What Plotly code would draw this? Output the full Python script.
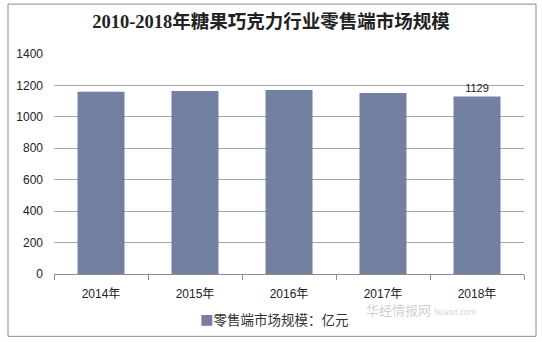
import plotly.graph_objects as go

years = ["2014年", "2015年", "2016年", "2017年", "2018年"]
values = [1159, 1165, 1171, 1152, 1129]
labels = ["", "", "", "", "1129"]
y_ticks = [0, 200, 400, 600, 800, 1000, 1200, 1400]
series_name = "零售端市场规模：亿元"
title = "2010-2018年糖果巧克力行业零售端市场规模"
bar_color = "#7480a2"

L, R, T, B = 54, 18, 54, 67.5
W, H = 542, 342
pw, ph = W - L - R, H - T - B

def px(x):
    return (x - L) / pw

def py(y):
    return (H - B - y) / ph

fig = go.Figure()
fig.add_trace(go.Bar(
    x=years, y=values, name=series_name,
    marker=dict(color=bar_color, line=dict(width=0)),
    width=0.5,
    text=labels, textposition="outside",
    textfont=dict(family="Arial, Liberation Sans, sans-serif", size=11, color="#222"),
    cliponaxis=False, showlegend=False,
))

fig.update_layout(
    width=W, height=H,
    margin=dict(l=L, r=R, t=T, b=B),
    paper_bgcolor="white", plot_bgcolor="white",
    showlegend=False,
    title=dict(text=title, x=0.5, xanchor="center", y=1 - 22 / H, yanchor="middle",
               font=dict(family="Liberation Serif, Noto Sans CJK SC, serif", size=18.5, color="#222", weight=600)),
    xaxis=dict(showline=True, linecolor="#8c8c8c", linewidth=1,
               ticks="outside", tickson="boundaries", ticklen=5, tickcolor="#8c8c8c",
               ticklabelstandoff=9,
               tickfont=dict(family="Arial, Liberation Sans, Noto Sans CJK SC, sans-serif", size=12, color="#222"),
               showgrid=False, fixedrange=True),
    yaxis=dict(range=[0, 1400], tickvals=y_ticks, showgrid=True, gridcolor="#a6a6a6", gridwidth=1,
               zeroline=False, showline=False, ticks="", ticklabelstandoff=10,
               tickfont=dict(family="Arial, Liberation Sans, sans-serif", size=12, color="#222"),
               fixedrange=True),
    shapes=[dict(type="rect", xref="paper", yref="paper",
                 x0=px(8), x1=px(536), y0=py(4), y1=py(337),
                 line=dict(color="#8c8c8c", width=1), fillcolor="rgba(0,0,0,0)", layer="below")],
    annotations=[
        dict(text=f"<span style='color:{bar_color}'>■</span>{series_name}",
             xref="paper", yref="paper", x=px(274), y=py(320), xanchor="center", yanchor="middle",
             showarrow=False,
             font=dict(family="Noto Sans CJK SC, sans-serif", size=13.5, color="#333")),
        dict(text="华经情报网 <span style='font-size:8px'>huaon.com</span>",
             xref="paper", yref="paper", x=px(478), y=py(322), showarrow=False,
             font=dict(family="Noto Sans CJK SC, sans-serif", size=13, color="rgba(160,160,160,0.5)")),
    ],
)

fig.write_html("out.html")
